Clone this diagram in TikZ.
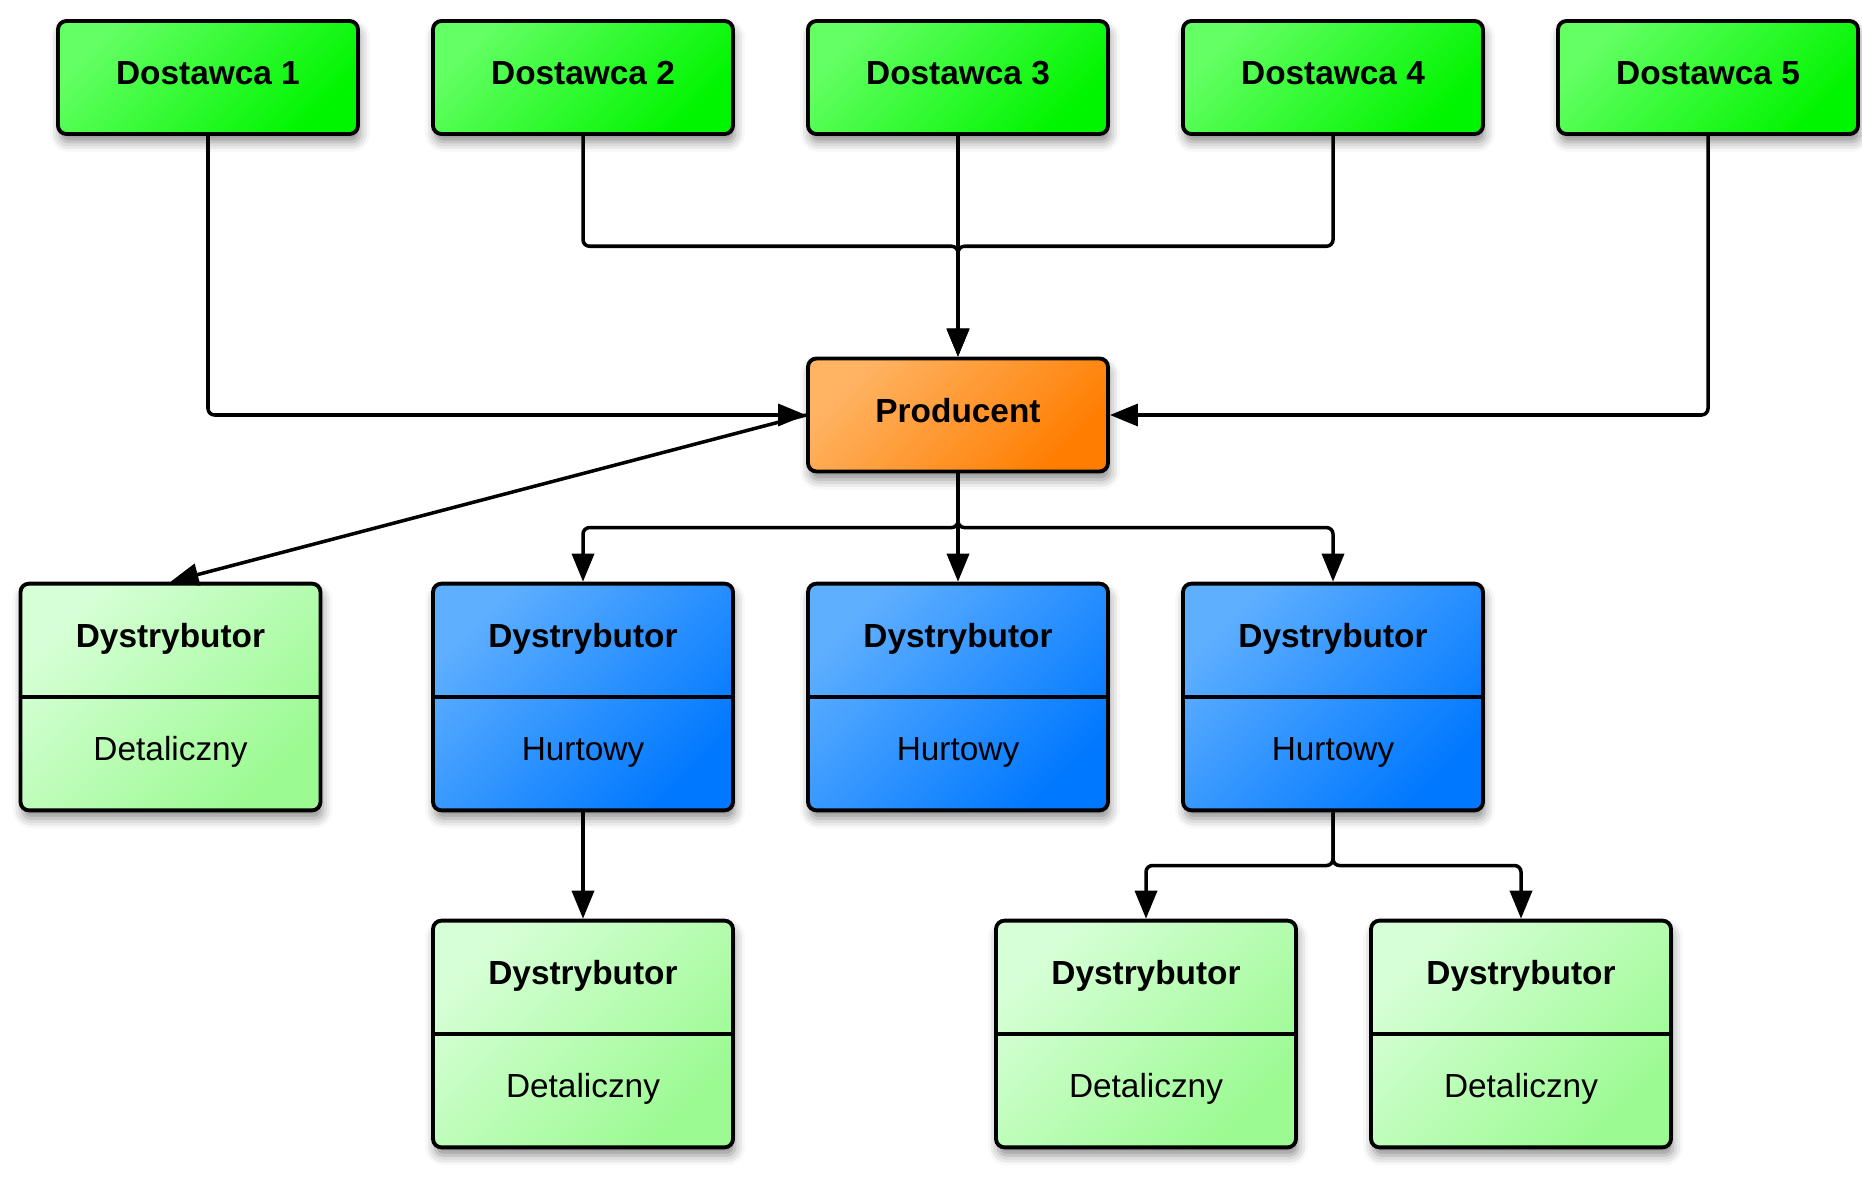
\documentclass[tikz,border=0pt]{standalone}
\usepackage{fontspec}
\setmainfont{Liberation Sans}
\usepackage{tikz}
\usetikzlibrary{arrows.meta, positioning, calc, shapes.multipart, shadows.blur}
\definecolor{supplylight}{RGB}{100, 255, 100}
\definecolor{supplydark}{RGB}{0, 245, 0}
\definecolor{prodlight}{RGB}{255, 180, 100}
\definecolor{proddark}{RGB}{255, 125, 0}
\definecolor{wholelight}{RGB}{95, 175, 255}
\definecolor{wholedark}{RGB}{0, 120, 255}
\definecolor{retaillight}{RGB}{215, 255, 215}
\definecolor{retaildark}{RGB}{155, 250, 145}
\newcommand{\boxpart}[2]{\fontsize{19}{23}\selectfont#1\rule[-0.96cm]{0pt}{2.19cm}#2}

\begin{document}
\begin{tikzpicture}[
    box/.style={rectangle, rounded corners=0.17cm, draw=black, line width=2.2pt, top color=#1light, bottom color=#1dark, shading angle=45, minimum width=6cm, align=center, font=\fontsize{19}{23}\selectfont\bfseries, blur shadow={shadow xshift=0.04cm, shadow yshift=-0.16cm, shadow blur radius=0.2cm, shadow opacity=45}},
    onebox/.style={box=#1, minimum height=2.26cm, text height=0.48cm, text depth=0.2cm},
    splitbox/.style={box=#1, rectangle split, rectangle split parts=2, inner ysep=0pt},
    arr/.style={-{Triangle[length=0.56cm, width=0.44cm]}, line width=2pt, rounded corners=0.13cm}
]
\useasboundingbox (0,0) rectangle (37.24,-23.7);

% Suppliers
\node[onebox=supply] (dost1) at (4.16,-1.55) {Dostawca 1};
\node[onebox=supply] (dost2) at (11.66,-1.55) {Dostawca 2};
\node[onebox=supply] (dost3) at (19.16,-1.55) {Dostawca 3};
\node[onebox=supply] (dost4) at (26.66,-1.55) {Dostawca 4};
\node[onebox=supply] (dost5) at (34.16,-1.55) {Dostawca 5};

% Producer
\node[onebox=prod] (prod) at (19.16,-8.3) {Producent};

% Distributors
\node[splitbox=retail] (det) at (3.41,-13.94) {\boxpart{\bfseries}{Dystrybutor}\nodepart{two}\boxpart{\mdseries}{Detaliczny}};
\node[splitbox=whole] (hurt1) at (11.66,-13.94) {\boxpart{\bfseries}{Dystrybutor}\nodepart{two}\boxpart{\mdseries}{Hurtowy}};
\node[splitbox=whole] (hurt2) at (19.16,-13.94) {\boxpart{\bfseries}{Dystrybutor}\nodepart{two}\boxpart{\mdseries}{Hurtowy}};
\node[splitbox=whole] (hurt3) at (26.66,-13.94) {\boxpart{\bfseries}{Dystrybutor}\nodepart{two}\boxpart{\mdseries}{Hurtowy}};
\node[splitbox=retail] (det1) at (11.66,-20.68) {\boxpart{\bfseries}{Dystrybutor}\nodepart{two}\boxpart{\mdseries}{Detaliczny}};
\node[splitbox=retail] (det2) at (22.92,-20.68) {\boxpart{\bfseries}{Dystrybutor}\nodepart{two}\boxpart{\mdseries}{Detaliczny}};
\node[splitbox=retail] (det3) at (30.42,-20.68) {\boxpart{\bfseries}{Dystrybutor}\nodepart{two}\boxpart{\mdseries}{Detaliczny}};

% Junctions
\coordinate (topjoin) at ($(dost3.south)!0.5!(prod.north)$);
\coordinate (midjoin) at ($(prod.south)!0.5!(hurt2.north)$);
\coordinate (lowjoin) at ($(hurt3.south)!0.5!(hurt3.south |- det2.north)$);

% Supply arrows
\draw[arr] (dost1.south) |- (prod.west);
\draw[arr] (dost5.south) |- (prod.east);
\draw[arr] (dost2.south) |- (topjoin) -- (prod.north);
\draw[arr] (dost4.south) |- (topjoin) -- (prod.north);
\draw[arr] (dost3.south) -- (prod.north);

% Distribution arrows
\draw[arr] (prod.west) -- (det.north);
\draw[arr] (prod.south) -- (midjoin) -| (hurt1.north);
\draw[arr] (prod.south) -- (midjoin) -| (hurt3.north);
\draw[arr] (prod.south) -- (hurt2.north);
\draw[arr] (hurt1.south) -- (det1.north);
\draw[arr] (hurt3.south) -- (lowjoin) -| (det2.north);
\draw[arr] (hurt3.south) -- (lowjoin) -| (det3.north);

\end{tikzpicture}
\end{document}
